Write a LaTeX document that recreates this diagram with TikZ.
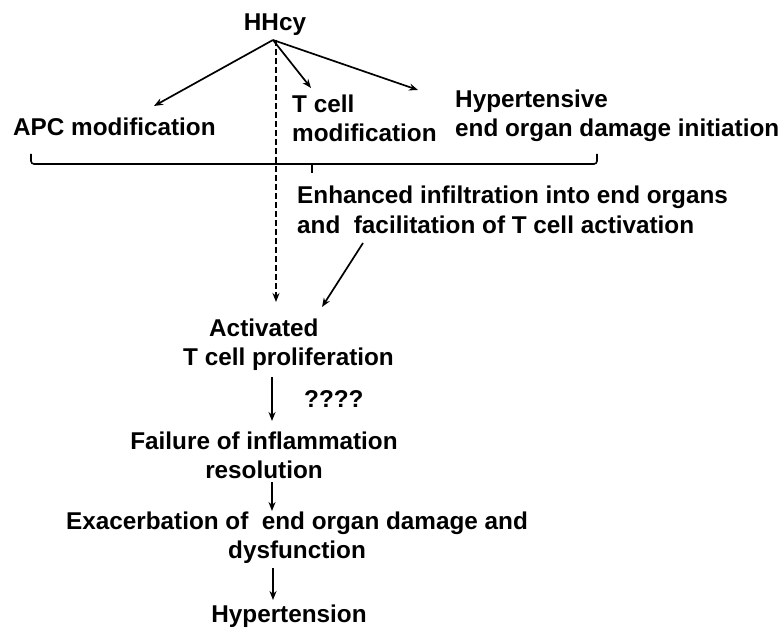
\documentclass[tikz,border=0pt]{standalone}
\usepackage{fontspec}
\setmainfont{Liberation Sans}
\usetikzlibrary{arrows.meta}
\begin{document}
\begin{tikzpicture}[x=1pt,y=-1pt,
  lbl/.style={font=\fontsize{24.3}{29}\selectfont\bfseries, inner sep=0pt, anchor=base},
  arr/.style={line width=1.7pt, -{Stealth[length=9pt,width=7pt]}},
  dasharr/.style={line width=1.5pt, dash pattern=on 6pt off 3pt, -{Stealth[length=9pt,width=7pt]}},
  brace/.style={line width=1.6pt, rounded corners=3pt}]
\useasboundingbox (0,0) rectangle (781,631);
% text nodes (multi-line nodes anchored at the baseline of their last line)
\node[lbl] (hhcy) at (275,31) {HHcy};
\node[lbl, anchor=base west] (apc) at (13,136) {APC modification};
\node[lbl, anchor=base west, align=left] (tcm) at (292,142) {T cell\\modification};
\node[lbl, anchor=base west, align=left] (hyp) at (455,137) {Hypertensive\\end organ damage initiation};
\node[lbl, anchor=base west, align=left] (enh) at (297,233) {Enhanced infiltration into end organs\\and\ \ facilitation of T cell activation};
\node[lbl, anchor=base west, align=left] (act) at (183,365) {\hspace*{26pt}Activated\\T cell proliferation};
\node[lbl, anchor=base west] (qq) at (304,407) {????};
\node[lbl, align=center] (fail) at (264,478) {Failure of inflammation\\resolution};
\node[lbl, align=center] (exa) at (297,558) {Exacerbation of\ \ end organ damage and\\dysfunction};
\node[lbl] (ht) at (289,622) {Hypertension};
% connector end points
\coordinate (src) at (273,40);
\coordinate (apcE) at (154,106);
\coordinate (tcE) at (311,88);
\coordinate (hypE) at (418,90);
\coordinate (dsrc) at (276,40);
\coordinate (dE) at (276,302);
\coordinate (bl) at (31,154);
\coordinate (br) at (597,154);
\coordinate (bm) at (312,164);
\coordinate (bt) at (312,173);
\coordinate (enS) at (363,243);
\coordinate (enE) at (322,307);
\coordinate (a1s) at (272,377);
\coordinate (a1e) at (272,421);
\coordinate (a2s) at (272,482);
\coordinate (a2e) at (272,511);
\coordinate (a3s) at (273,568);
\coordinate (a3e) at (273,600);
% connectors
\draw[arr] (src) -- (apcE);
\draw[arr] (src) -- (tcE);
\draw[arr] (src) -- (hypE);
\draw[dasharr] (dsrc) -- (dE);
\draw[brace] (bl) |- (bm) -| (br);
\draw[line width=1.6pt] (bm) -- (bt);
\draw[arr] (enS) -- (enE);
\draw[arr] (a1s) -- (a1e);
\draw[arr] (a2s) -- (a2e);
\draw[arr] (a3s) -- (a3e);
\end{tikzpicture}
\end{document}
